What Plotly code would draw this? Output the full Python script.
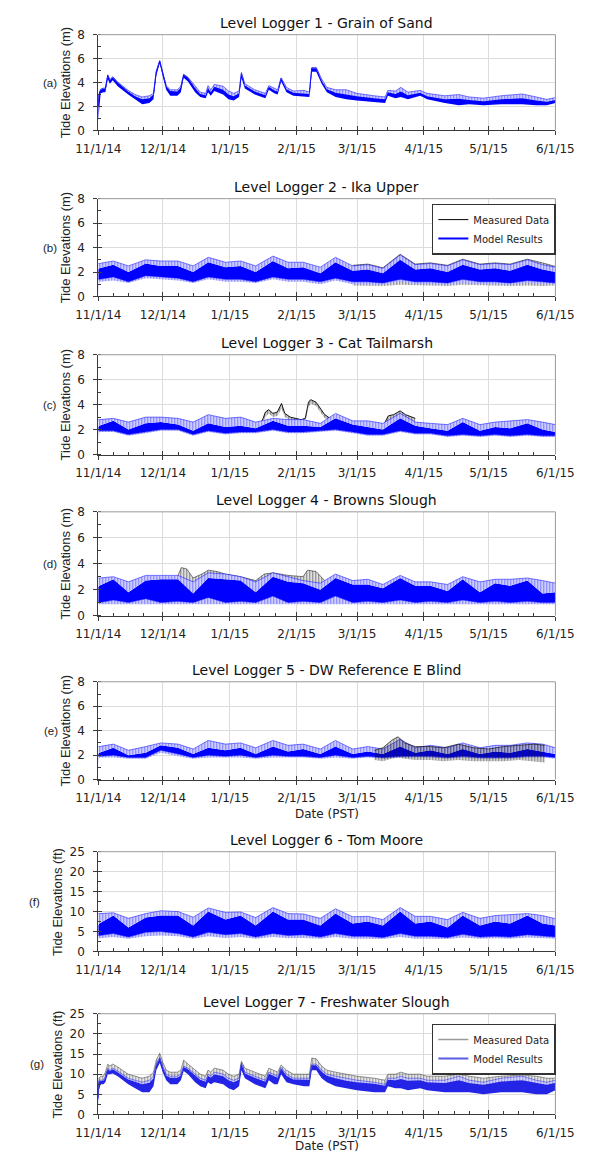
import plotly.graph_objects as go
import pandas as pd

# ---------------- DATA ----------------
START = "2014-11-01"
END = "2015-06-01"

titles = ["Level Logger 1 - Grain of Sand", "Level Logger 2 - Ika Upper",
          "Level Logger 3 - Cat Tailmarsh", "Level Logger 4 - Browns Slough",
          "Level Logger 5 - DW Reference E Blind", "Level Logger 6 - Tom Moore",
          "Level Logger 7 - Freshwater Slough"]
letters = ["(a)", "(b)", "(c)", "(d)", "(e)", "(f)", "(g)"]
ylabels = ["Tide Elevations (m)"] * 5 + ["Tide Elevations (ft)"] * 2
ymax = [8, 8, 8, 8, 8, 25, 25]
ydtick = [2, 2, 2, 2, 2, 5, 5]
yminor = [1, 1, 1, 1, 1, 2.5, 2.5]

# days since 11/1/14 of the tidal envelope samples (loggers 2-6)
grid_days = [0, 0.5, 7, 14, 22, 29, 37, 44, 51, 59, 66, 73, 81, 88, 95, 103, 110,
             118, 125, 132, 140, 147, 154, 162, 169, 177, 184, 191, 199, 206, 212]

# Logger 1 / Logger 7 sample days
days1 = [0, 0.3, 1.1, 2.4, 3.3, 4.4, 5.4, 6.7, 9, 13.9,
         17.1, 20.4, 23.7, 25.6, 26.9, 28.5, 29.9, 31.5, 33.4, 36.7,
         38.3, 39.6, 41.6, 44.9, 47.3, 49.8, 50.9, 52.2, 53.8, 57.9,
         60.4, 62.8, 65.3, 66.4, 68, 72.6, 77.5, 79.1, 81.6, 83.2,
         84.8, 87.3, 90.5, 95.4, 97.9, 99, 101.1, 103.6, 106, 110.1,
         115, 119.9, 128, 133, 134.3, 137.8, 140.3, 143.6, 149.3, 152.5,
         160.7, 167.2, 172, 178.6, 186.8, 196.6, 203.1, 208, 212]

# Logger 1 model (m): high tide edge, top of dense band, low tide edge
model1_hi = [2.0, 3.0, 3.45, 3.55, 3.55, 4.65, 4.25, 4.5, 4.05, 3.35,
             3.0, 2.8, 2.9, 3.1, 4.95, 5.85, 4.85, 3.75, 3.4, 3.4,
             3.7, 4.7, 4.45, 3.7, 3.2, 3.1, 3.75, 3.4, 3.85, 3.7,
             3.3, 3.1, 3.3, 4.85, 3.9, 3.4, 3.1, 3.75, 3.5, 3.4,
             4.4, 3.6, 3.3, 3.35, 3.2, 5.25, 5.25, 4.3, 3.6, 3.4,
             3.4, 3.1, 2.9, 2.8, 3.35, 3.3, 3.6, 3.2, 3.35, 3.1,
             2.9, 3.0, 2.8, 2.7, 2.9, 3.05, 2.8, 2.6, 2.75]
model1_mid = [2.0, 3.0, 3.4, 3.5, 3.5, 4.6, 4.2, 4.45, 4.0, 3.25,
              2.85, 2.6, 2.7, 3.0, 4.9, 5.8, 4.8, 3.7, 3.3, 3.25,
              3.6, 4.65, 4.4, 3.55, 3.05, 2.95, 3.55, 3.2, 3.65, 3.4,
              3.0, 2.85, 3.1, 4.75, 3.75, 3.25, 2.95, 3.65, 3.35, 3.25,
              4.35, 3.45, 3.15, 3.1, 3.05, 5.2, 5.2, 4.15, 3.45, 3.15,
              3.0, 2.85, 2.7, 2.6, 3.2, 3.05, 3.25, 2.95, 3.15, 2.85,
              2.6, 2.65, 2.55, 2.45, 2.6, 2.7, 2.5, 2.4, 2.55]
model1_lo = [0.8, 1.5, 3.1, 3.2, 3.2, 4.3, 3.9, 4.2, 3.7, 3.0,
             2.6, 2.2, 2.3, 2.6, 4.6, 5.6, 4.5, 3.4, 2.9, 2.9,
             3.2, 4.4, 4.1, 3.2, 2.8, 2.7, 3.2, 2.9, 3.3, 3.0,
             2.6, 2.5, 2.8, 4.4, 3.5, 3.0, 2.7, 3.4, 3.1, 3.0,
             4.1, 3.2, 2.9, 2.8, 2.8, 4.9, 4.9, 3.9, 3.2, 2.8,
             2.6, 2.5, 2.4, 2.3, 2.9, 2.7, 2.8, 2.6, 2.9, 2.6,
             2.3, 2.1, 2.2, 2.1, 2.2, 2.2, 2.1, 2.1, 2.3]

# Logger 2 (m)
model2_hi = [2.7, 2.7, 2.9, 2.5, 3.0, 2.9, 2.9, 2.5, 3.2, 2.8, 2.9, 2.5, 3.3, 2.8, 2.8, 2.4,
             3.2, 2.5, 2.6, 2.3, 3.4, 2.6, 2.7, 2.5, 3.0, 2.6, 2.7, 2.6, 3.0, 2.6, 2.4]
model2_chi = [2.2, 2.3, 2.6, 2.0, 2.7, 2.5, 2.5, 2.0, 2.8, 2.4, 2.5, 2.0, 2.9, 2.3, 2.4, 1.9,
              2.8, 2.1, 2.2, 1.9, 3.0, 2.2, 2.3, 2.0, 2.6, 2.2, 2.3, 2.1, 2.6, 2.2, 2.0]
model2_clo = [1.4, 1.4, 1.6, 1.2, 1.7, 1.6, 1.5, 1.2, 1.6, 1.4, 1.4, 1.2, 1.6, 1.4, 1.4, 1.2,
              1.5, 1.2, 1.2, 1.1, 1.4, 1.2, 1.2, 1.1, 1.4, 1.2, 1.2, 1.1, 1.3, 1.2, 1.1]
model2_lo = [0.0, 1.2, 1.3, 1.1, 1.5, 1.4, 1.3, 1.1, 1.4, 1.2, 1.2, 1.1, 1.4, 1.2, 1.2, 1.0,
             1.3, 1.0, 1.0, 0.95, 1.2, 1.0, 1.0, 0.95, 1.1, 1.0, 1.0, 0.95, 1.1, 1.0, 1.0]
meas2_days = [118, 125, 132, 140, 147, 154, 162, 169, 177, 184, 191, 199, 206, 212]
meas2_hi = [2.55, 2.65, 2.35, 3.45, 2.65, 2.75, 2.55, 3.05, 2.65, 2.75, 2.65, 3.05, 2.75, 2.45]
meas2_lo = [0.9, 0.9, 0.85, 0.95, 0.9, 0.9, 0.85, 0.95, 0.9, 0.9, 0.85, 0.9, 0.85, 0.9]

# Logger 3 (m)
model3_hi = [2.8, 2.8, 2.9, 2.6, 3.0, 3.0, 2.9, 2.6, 3.2, 2.9, 3.0, 2.6, 2.9, 2.8, 2.8, 2.5,
             3.3, 2.7, 2.7, 2.5, 3.3, 2.6, 2.5, 2.4, 2.9, 2.4, 2.6, 2.7, 2.8, 2.6, 2.4]
model3_chi = [2.2, 2.3, 2.7, 2.0, 2.5, 2.6, 2.4, 1.9, 2.5, 2.2, 2.3, 2.1, 2.7, 2.3, 2.3, 2.2,
              2.9, 2.4, 2.2, 2.0, 2.9, 2.3, 2.1, 1.9, 2.6, 1.9, 2.2, 2.1, 2.5, 2.0, 1.8]
model3_clo = [1.9, 1.9, 1.9, 1.6, 1.8, 2.0, 2.0, 1.6, 1.9, 1.7, 1.8, 1.8, 2.0, 1.8, 1.8, 1.9,
              2.0, 1.8, 1.6, 1.6, 1.9, 1.7, 1.7, 1.5, 1.6, 1.5, 1.6, 1.5, 1.6, 1.5, 1.5]
model3_lo = [1.0, 1.8, 1.8, 1.5, 1.7, 1.9, 1.9, 1.5, 1.8, 1.6, 1.7, 1.7, 1.9, 1.7, 1.7, 1.8,
             1.9, 1.7, 1.5, 1.5, 1.8, 1.6, 1.6, 1.4, 1.5, 1.4, 1.5, 1.4, 1.5, 1.4, 1.4]
meas3a_days = [76, 77.5, 79, 81, 83, 85, 86.5, 89, 94, 96, 97.5, 98.5, 101, 103.5, 105, 107.5, 109]
meas3a_hi = [2.7, 3.4, 3.6, 3.3, 3.4, 4.1, 3.3, 3.0, 2.8, 2.9, 4.2, 4.4, 4.2, 3.6, 3.2, 2.9, 2.7]
meas3a_lo = [2.5, 3.0, 3.3, 3.0, 3.1, 3.7, 3.0, 2.7, 2.55, 2.6, 3.8, 4.1, 3.9, 3.3, 2.9, 2.6, 2.45]
meas3b_days = [133, 134.5, 137, 140, 142.5, 145, 147]
meas3b_hi = [2.6, 3.1, 3.2, 3.5, 3.2, 3.0, 2.9]
meas3b_lo = [2.3, 2.7, 2.8, 3.0, 2.7, 2.6, 2.6]

# Logger 4 (m)
model4_hi = [2.9, 2.9, 3.0, 2.6, 3.1, 3.1, 3.1, 2.6, 3.3, 3.2, 3.0, 2.6, 3.3, 3.0, 2.7, 2.5,
             3.2, 2.7, 2.8, 2.4, 3.1, 2.6, 2.6, 2.4, 3.0, 2.6, 2.8, 2.8, 2.9, 2.7, 2.5]
model4_chi = [2.2, 2.3, 2.8, 1.8, 2.7, 2.8, 2.8, 1.7, 2.9, 2.8, 2.7, 1.8, 3.0, 2.6, 2.5, 2.0,
              2.9, 2.4, 2.4, 2.1, 2.9, 2.3, 2.3, 1.9, 2.8, 1.8, 2.5, 2.3, 2.7, 1.7, 1.8]
model4_clo = [1.0, 1.0, 1.2, 1.0, 1.3, 1.0, 1.1, 1.0, 1.4, 1.0, 1.1, 1.0, 1.5, 1.0, 1.1, 1.0,
              1.5, 1.0, 1.1, 1.0, 1.2, 1.0, 1.1, 1.0, 1.2, 1.0, 1.1, 1.0, 1.1, 1.0, 1.0]
model4_lo = [0.88, 0.88, 0.9, 0.88, 0.9, 0.88, 0.88, 0.88, 0.9, 0.88, 0.88, 0.88, 0.9, 0.88, 0.88, 0.88,
             0.9, 0.88, 0.88, 0.88, 0.9, 0.88, 0.88, 0.88, 0.9, 0.88, 0.88, 0.88, 0.88, 0.88, 0.88]
meas4_days = [37, 38.5, 41, 44, 48, 51, 55, 59, 66, 73, 77, 81, 88, 95, 97, 101, 105]
meas4_hi = [3.1, 3.7, 3.6, 2.9, 3.2, 3.5, 3.4, 3.2, 3.0, 2.7, 3.2, 3.3, 3.1, 3.0, 3.5, 3.4, 2.7]
meas4_lo = [1.0, 1.0, 1.0, 1.0, 1.0, 1.0, 1.0, 1.0, 1.0, 1.0, 1.0, 1.0, 1.0, 1.0, 1.0, 1.0, 1.0]

# Logger 5 (m)
model5_hi = [2.7, 2.7, 2.9, 2.4, 2.7, 3.0, 2.9, 2.5, 3.2, 2.9, 3.0, 2.6, 3.2, 2.8, 2.9, 2.5,
             3.2, 2.5, 2.7, 2.5, 3.3, 2.6, 2.8, 2.6, 3.0, 2.6, 2.8, 2.8, 3.0, 2.9, 2.6]
model5_chi = [2.1, 2.2, 2.6, 2.0, 2.2, 2.8, 2.6, 2.1, 2.6, 2.4, 2.6, 2.1, 2.7, 2.3, 2.5, 2.1,
              2.7, 2.1, 2.3, 2.1, 2.7, 2.2, 2.4, 2.1, 2.5, 2.1, 2.3, 2.2, 2.5, 2.3, 2.1]
model5_clo = [1.9, 1.9, 2.0, 1.8, 1.8, 2.4, 2.1, 1.8, 2.0, 1.9, 2.0, 1.8, 2.0, 1.9, 1.9, 1.8,
              2.0, 1.8, 1.9, 1.8, 1.9, 1.9, 1.9, 1.8, 1.9, 1.8, 1.8, 1.8, 1.9, 1.9, 1.8]
model5_lo = [1.2, 1.8, 1.8, 1.7, 1.7, 2.2, 1.9, 1.7, 1.8, 1.8, 1.8, 1.7, 1.8, 1.8, 1.8, 1.7,
             1.8, 1.7, 1.8, 1.7, 1.8, 1.8, 1.8, 1.7, 1.8, 1.7, 1.7, 1.7, 1.8, 1.8, 1.7]
meas5_days = [128, 132, 136, 139, 142, 147, 154, 160, 167, 174, 181, 188, 195, 202, 207]
meas5_hi = [2.4, 2.6, 3.2, 3.5, 3.0, 2.7, 2.7, 2.6, 2.9, 2.6, 2.5, 2.7, 2.8, 2.9, 2.8]
meas5_lo = [1.6, 1.5, 1.7, 1.8, 1.7, 1.6, 1.6, 1.5, 1.6, 1.5, 1.5, 1.5, 1.6, 1.5, 1.4]

# Logger 6 (ft)
model6_hi = [9.5, 9.5, 9.7, 8.3, 9.5, 10.2, 10.0, 8.6, 10.9, 9.8, 9.9, 8.5, 11.0, 9.5, 9.4, 8.3,
             10.7, 8.7, 8.8, 8.0, 11.0, 8.8, 8.8, 8.0, 9.8, 8.3, 9.0, 9.3, 9.5, 9.0, 8.2]
model6_chi = [6.5, 7.0, 9.0, 6.0, 8.5, 9.0, 9.0, 6.5, 10.0, 8.0, 9.0, 6.5, 10.0, 8.0, 8.0, 6.5,
              9.5, 7.0, 7.5, 6.5, 10.0, 7.0, 7.5, 6.0, 9.0, 6.5, 7.5, 7.0, 9.0, 7.0, 6.5]
model6_clo = [4.0, 4.0, 4.5, 3.6, 4.8, 5.0, 4.5, 3.6, 4.8, 4.2, 4.5, 3.6, 4.5, 4.0, 4.2, 3.6,
              4.5, 3.8, 3.8, 3.5, 4.5, 3.8, 3.8, 3.5, 4.3, 3.6, 3.8, 3.6, 4.2, 3.8, 3.6]
model6_lo = [3.3, 3.3, 3.6, 3.2, 3.8, 4.0, 3.8, 3.2, 3.8, 3.4, 3.6, 3.2, 3.6, 3.3, 3.4, 3.2,
             3.6, 3.2, 3.2, 3.1, 3.6, 3.2, 3.2, 3.1, 3.5, 3.2, 3.3, 3.2, 3.5, 3.3, 3.2]

# Logger 7 (ft)
model7_hi = [4, 8.5, 8.5, 8.5, 9.5, 11.5, 11, 11.5, 10.8, 9,
             8.5, 8, 8.5, 9.5, 12.5, 14.2, 12, 10, 9.5, 9.5,
             10, 12, 11.5, 10, 9, 8.5, 10, 9.5, 10.5, 10,
             9, 8.5, 9, 12.8, 10.5, 9.5, 8.5, 10.5, 10, 9.5,
             11.7, 10, 9, 9, 9, 12.5, 12.5, 11, 10, 9.5,
             9, 8.5, 8, 7.5, 9, 9, 9.5, 9, 9, 8.5,
             8.5, 9.5, 8.5, 8, 9, 9.5, 8.5, 8, 8.5]
model7_mid = [4, 8.2, 8.3, 8.3, 9.2, 11.2, 10.8, 11.2, 10.5, 8.7,
              8.1, 7.5, 7.9, 9.0, 12.2, 14.0, 11.7, 9.7, 9.1, 9.1,
              9.7, 11.8, 11.2, 9.6, 8.6, 8.1, 9.6, 9.1, 10.0, 9.5,
              8.5, 8.0, 8.6, 12.5, 10.2, 9.1, 8.1, 10.1, 9.5, 9.1,
              11.4, 9.6, 8.7, 8.6, 8.6, 12.2, 12.2, 10.6, 9.6, 9.0,
              8.4, 8.0, 7.6, 7.1, 8.6, 8.5, 8.8, 8.4, 8.5, 8.0,
              7.8, 8.5, 7.8, 7.4, 8.2, 8.5, 7.8, 7.4, 7.9]
model7_lo = [2, 6, 7.5, 7.5, 8, 10, 10, 10.2, 9.5, 7.5,
             6.5, 5.5, 5.5, 7, 11, 12.8, 10.5, 8.5, 7.5, 7.5,
             8.5, 10.8, 10, 8, 7, 6.5, 8, 7.5, 8, 7.5,
             6.5, 6, 7, 11, 9, 7.5, 6.5, 8.5, 7.5, 7.5,
             10, 8, 7.5, 7, 7, 11, 11, 9, 8, 7,
             6.5, 6, 5.5, 5.5, 7, 6.5, 6.5, 6, 6.5, 6,
             5.5, 5.5, 5.5, 5, 5.5, 5.5, 5, 5, 6]
meas7_hi = [5, 9, 9.5, 9.5, 10.5, 12.5, 12, 12.5, 11.8, 10,
            9.5, 9, 9.5, 10.5, 13.5, 15.2, 13, 11, 10.5, 10.5,
            11, 13.5, 12.5, 11, 10, 9.5, 11, 10.5, 11.5, 11,
            10, 9.5, 10, 13.2, 11.5, 10.5, 9.5, 11.5, 11, 10.5,
            12.3, 11, 10, 10, 10, 14, 13.8, 12, 11, 10.5,
            10, 9.5, 9, 8.5, 10, 10, 10.5, 10, 10, 9.5,
            9.5, 10, 9.5, 9, 9.5, 9.8, 9.5, 9, 9]
meas7_lo = [3, 7.5, 8, 8, 8.5, 10.5, 10.5, 10.5, 10, 8,
            7, 6.5, 6.5, 8, 11.5, 13, 11, 9, 8, 8,
            9, 11, 10.5, 8.5, 7.5, 7, 8.5, 8, 8.5, 8,
            7, 6.5, 7.5, 11.5, 9.5, 8, 7, 9, 8, 8,
            10.5, 8.5, 8, 7.5, 7.5, 11.5, 11.5, 9.5, 8.5, 7.5,
            7, 6.5, 6, 6, 7.5, 7, 7, 6.5, 7, 6.5,
            6, 6, 6, 5.5, 6, 6, 5.5, 5.5, 6.5]

legend_names = ["Measured Data", "Model Results"]

# ---------------- helpers ----------------
t0 = pd.Timestamp(START)


def dates(days):
    return [t0 + pd.Timedelta(days=d) for d in days]


W, H = 593, 1162
PX_L, PX_R = 81, 573
tops = [28, 194, 352, 511, 683, 855, 1019]
bots = [125, 293, 453, 616, 782, 956, 1121]
letter_x = [29, 29, 29, 29, 30, 12, 15]
ytitle_x = [46, 46, 46, 46, 46, 37, 37]
FONT = "DejaVu Sans, Liberation Sans, Arial, sans-serif"
YFONT = "Liberation Sans, Arial, sans-serif"
BLUE = "#0000ff"
BLUE7 = "#2424e6"

fig = go.Figure()


def axes(i):
    return ("x" if i == 1 else f"x{i}"), ("y" if i == 1 else f"y{i}")


def band(i, x, lo, hi, color, striped, bg="white", solidity=0.6, edge=0.5, size=3):
    xa, ya = axes(i)
    assert len(x) == len(lo) == len(hi), (i, len(x), len(lo), len(hi))
    fig.add_trace(go.Scatter(x=x, y=lo, mode="lines", line=dict(width=0, color=color),
                             hoverinfo="skip", showlegend=False, xaxis=xa, yaxis=ya))
    kw = dict(x=x, y=hi, mode="lines", line=dict(width=edge, color=color), fill="tonexty",
              fillcolor=color, hoverinfo="skip", showlegend=False, xaxis=xa, yaxis=ya)
    if striped:
        kw["fillpattern"] = dict(shape="|", size=size, solidity=solidity, fgcolor=color, bgcolor=bg)
    fig.add_trace(go.Scatter(**kw))


def model4(i, x, lo, clo, chi, hi, color=BLUE):
    band(i, x, lo, clo, color, True)
    band(i, x, clo, chi, color, False, edge=0)
    band(i, x, chi, hi, color, True)


g = dates(grid_days)
d1 = dates(days1)

# panel 1
band(1, d1, model1_lo, model1_mid, BLUE, False, edge=1)
band(1, d1, model1_mid, model1_hi, BLUE, True)
# panel 2
band(2, dates(meas2_days), meas2_lo, meas2_hi, "black", True, bg="rgba(0,0,0,0)", solidity=0.5)
model4(2, g, model2_lo, model2_clo, model2_chi, model2_hi)
# panel 3
band(3, dates(meas3a_days), meas3a_lo, meas3a_hi, "black", True, bg="rgba(0,0,0,0)", edge=0.9)
band(3, dates(meas3b_days), meas3b_lo, meas3b_hi, "black", True, bg="rgba(0,0,0,0)", edge=0.9)
model4(3, g, model3_lo, model3_clo, model3_chi, model3_hi)
# panel 4
band(4, dates(meas4_days), meas4_lo, meas4_hi, "black", True, bg="rgba(0,0,0,0)", solidity=0.5)
model4(4, g, model4_lo, model4_clo, model4_chi, model4_hi)
# panel 5
model4(5, g, model5_lo, model5_clo, model5_chi, model5_hi)
band(5, dates(meas5_days), meas5_lo, meas5_hi, "#111111", True, bg="rgba(0,0,0,0)", solidity=0.6, edge=0.7)
# panel 6
model4(6, g, model6_lo, model6_clo, model6_chi, model6_hi)
# panel 7
band(7, d1, meas7_lo, meas7_hi, "#333333", True, bg="rgba(0,0,0,0)", solidity=0.5)
band(7, d1, model7_lo, model7_mid, BLUE7, False, edge=1)
band(7, d1, model7_mid, model7_hi, BLUE7, True)

# legend entries (legend-only lines)
fig.add_trace(go.Scatter(x=[None], y=[None], mode="lines", name=legend_names[0],
                         line=dict(color="black", width=1), legend="legend", xaxis="x2", yaxis="y2"))
fig.add_trace(go.Scatter(x=[None], y=[None], mode="lines", name=legend_names[1],
                         line=dict(color=BLUE, width=2), legend="legend", xaxis="x2", yaxis="y2"))
fig.add_trace(go.Scatter(x=[None], y=[None], mode="lines", name=legend_names[0],
                         line=dict(color="#9a9a9a", width=1.5), legend="legend2", xaxis="x7", yaxis="y7"))
fig.add_trace(go.Scatter(x=[None], y=[None], mode="lines", name=legend_names[1],
                         line=dict(color="#5c5ce0", width=2), legend="legend2", xaxis="x7", yaxis="y7"))

# minor x ticks (about weekly inside ticks)
months = pd.date_range(START, "2015-05-01", freq="MS")
minor_x = [m + pd.Timedelta(days=k) for m in months for k in (7, 14, 21)]

xdom = [PX_L / W, PX_R / W]
layout = dict(width=W, height=H, margin=dict(l=0, r=0, t=0, b=0),
              paper_bgcolor="white", plot_bgcolor="white",
              font=dict(family=FONT, size=12, color="#222"), showlegend=True)
annotations = []
shapes = []
AX = "#3a3a3a"
for i in range(1, 8):
    k = i - 1
    ydom = [1 - bots[k] / H, 1 - tops[k] / H]
    ymid = 1 - (tops[k] + bots[k]) / 2 / H
    xa, ya = axes(i)
    xname = "xaxis" if i == 1 else f"xaxis{i}"
    yname = "yaxis" if i == 1 else f"yaxis{i}"
    layout[xname] = dict(domain=xdom, anchor=ya, type="date", range=[START, END],
                         tick0=START, dtick="M1", tickformat="%-m/%-d/%y",
                         ticks="outside", ticklen=4, tickcolor=AX, tickwidth=1,
                         showline=True, linecolor=AX, linewidth=1,
                         showgrid=True, gridcolor="#dcdcdc", gridwidth=1, zeroline=False,
                         tickfont=dict(family=FONT, size=12, color="#222"), ticklabelstandoff=3,
                         minor=dict(ticks="inside", ticklen=3, tickcolor=AX, tickmode="array",
                                    tickvals=minor_x, showgrid=False))
    layout[yname] = dict(domain=ydom, anchor=xa, range=[0, ymax[k]], dtick=ydtick[k], tick0=0,
                         ticks="outside", ticklen=4, tickcolor=AX, tickwidth=1,
                         showline=True, linecolor=AX, linewidth=1,
                         showgrid=True, gridcolor="#dcdcdc", gridwidth=1, zeroline=False,
                         tickfont=dict(family=FONT, size=12, color="#222"), ticklabelstandoff=6,
                         minor=dict(ticks="inside", ticklen=3, tickcolor=AX, dtick=yminor[k],
                                    tick0=0, showgrid=False))
    # overlay axes giving the inner half of the crossing major ticks
    j = i + 7
    layout[f"xaxis{j}"] = dict(overlaying=xa, anchor=f"y{j}", type="date", range=[START, END],
                               tick0=START, dtick="M1", ticks="inside", ticklen=4, tickcolor=AX,
                               showticklabels=False, showgrid=False, showline=False, zeroline=False)
    layout[f"yaxis{j}"] = dict(overlaying=ya, anchor=f"x{j}", range=[0, ymax[k]], dtick=ydtick[k],
                               tick0=0, ticks="inside", ticklen=4, tickcolor=AX,
                               showticklabels=False, showgrid=False, showline=False, zeroline=False)
    fig.add_trace(go.Scatter(x=[None], y=[None], xaxis=f"x{j}", yaxis=f"y{j}",
                             showlegend=False, hoverinfo="skip"))
    # light top / right frame
    for (x0, y0, x1, y1) in [(0, 1, 1, 1), (1, 0, 1, 1)]:
        shapes.append(dict(type="line", xref=f"{xa} domain", yref=f"{ya} domain",
                           x0=x0, y0=y0, x1=x1, y1=y1, line=dict(color="#9a9a9a", width=1),
                           layer="above"))
    annotations.append(dict(text=titles[k], xref="paper", yref="paper",
                            x=(PX_L + PX_R) / 2 / W, y=1 - (tops[k] - 12) / H,
                            xanchor="center", yanchor="middle", showarrow=False,
                            font=dict(family=FONT, size=14, color="#111")))
    annotations.append(dict(text=ylabels[k], xref="paper", yref="paper",
                            x=ytitle_x[k] / W, y=ymid, textangle=-90,
                            xanchor="center", yanchor="middle", showarrow=False,
                            font=dict(family=YFONT, size=13, color="#222")))
    annotations.append(dict(text=letters[k], xref="paper", yref="paper",
                            x=letter_x[k] / W, y=ymid,
                            xanchor="center", yanchor="middle", showarrow=False,
                            font=dict(family=YFONT, size=11.5, color="#222")))

for k, off in ((4, 35), (6, 32)):
    annotations.append(dict(text="Date (PST)", xref="paper", yref="paper",
                            x=(PX_L + PX_R) / 2 / W, y=1 - (bots[k] + off) / H,
                            xanchor="center", yanchor="middle", showarrow=False,
                            font=dict(family=FONT, size=12, color="#222")))

layout["annotations"] = annotations
layout["shapes"] = shapes
legend_style = dict(xanchor="left", yanchor="top", bgcolor="white", bordercolor="#333",
                    borderwidth=1.5, font=dict(family=FONT, size=10, color="#222"),
                    tracegroupgap=0, itemwidth=30, traceorder="normal")
layout["legend"] = dict(x=440 / W, y=1 - 199 / H, **legend_style)
layout["legend2"] = dict(x=440 / W, y=1 - 1029 / H, **legend_style)
fig.update_layout(**layout)
fig.write_html("out.html", config={"displayModeBar": False},
               post_script="document.body.style.margin='0px';")
